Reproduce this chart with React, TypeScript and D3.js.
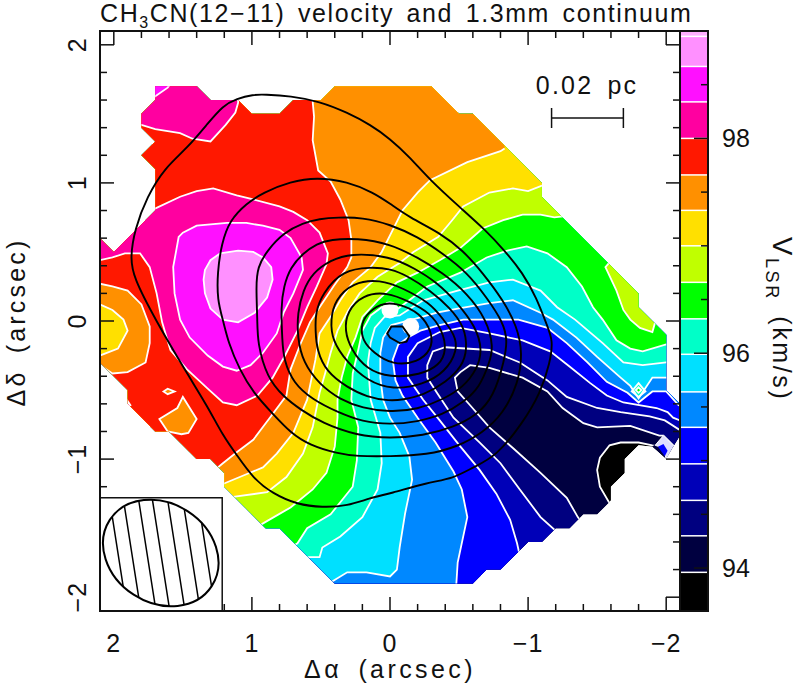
import React from "react";
import * as d3 from "d3";

type Pt = number[];

const width = 797;
const height = 693;
const font = "'Liberation Sans', sans-serif";

// colour bar: band edges (km/s) and the colour of each band, low to high
const barRange = [93.6, 99];
const levels = [93.96, 94.3, 94.63, 94.97, 95.31, 95.64, 95.99, 96.32, 96.66, 97.0, 97.33, 97.66, 98.0, 98.34, 98.67, 98.95];
const bandColors = [
  "#000000", "#000040", "#000080", "#0000b8", "#0000ff", "#0088ff", "#00e0ff", "#00ffc8", "#00ff00",
  "#c0ff00", "#ffe000", "#ff9000", "#ff1800", "#ff00a0", "#ff10ff", "#ff90ff", "#ffb0ff",
];
const barTicks = [94, 94.5, 95, 95.5, 96, 96.5, 97, 97.5, 98, 98.5];
const barLabels = [94, 96, 98];
const offsetLabels = [2, 1, 0, -1, -2];

// outline of the mapped area (arcsec)
const maskOutline: Pt[] = [
  [2.1, 0.6], [2.0, 0.5], [1.7, 0.8], [1.7, 1.1], [1.8, 1.2], [1.7, 1.3], [1.8, 1.4], [1.8, 1.5], [1.7, 1.6], [1.7, 1.7],
  [1.4, 1.7], [1.3, 1.6], [1.1, 1.6], [1.0, 1.5], [0.8, 1.5], [0.7, 1.6], [0.5, 1.6], [0.4, 1.7], [-0.3, 1.7], [-0.5, 1.5],
  [-0.6, 1.5], [-1.1, 1.0], [-1.1, 0.9], [-1.6, 0.4], [-1.8, 0.2], [-1.8, 0.1], [-2.0, -0.1], [-2.0, -0.5], [-2.1, -0.6],
  [-2.1, -0.83], [-2.05, -0.91], [-2.0, -1.0], [-1.9, -0.91], [-1.8, -0.9], [-1.7, -1.0], [-1.7, -1.1], [-1.6, -1.2], [-1.6, -1.3],
  [-1.5, -1.4], [-1.4, -1.4], [-1.3, -1.5], [-1.2, -1.5], [-1.1, -1.6], [-1.0, -1.6], [-0.8, -1.8], [-0.7, -1.8], [-0.6, -1.9],
  [0.4, -1.9], [0.8, -1.5], [0.9, -1.5], [1.2, -1.2], [1.2, -1.1], [1.3, -1.0], [1.4, -1.0], [1.6, -0.8], [1.7, -0.8],
  [1.9, -0.6], [1.9, -0.5], [2.1, -0.3],
];

// velocity contours, upper/right end first, lower end last
const v9396: Pt[] = [[-2.17, -0.93], [-1.9, -0.9], [-1.8, -0.88], [-1.67, -0.88], [-1.59, -0.9], [-1.52, -0.99], [-1.5, -1.08], [-1.52, -1.2], [-1.59, -1.32], [-1.62, -1.37]];
const v9430: Pt[] = [[-2.17, -0.91], [-2.06, -0.91], [-1.98, -0.83], [-1.95, -0.83], [-1.74, -0.76], [-1.5, -0.77], [-1.4, -0.74], [-1.25, -0.63], [-1.14, -0.51], [-0.96, -0.41], [-0.72, -0.34], [-0.58, -0.32], [-0.51, -0.37], [-0.47, -0.41], [-0.49, -0.51], [-0.58, -0.61], [-0.72, -0.77], [-0.89, -0.92], [-1.09, -1.1], [-1.28, -1.28], [-1.36, -1.42], [-1.39, -1.46]];
const v9463: Pt[] = [[-2.14, -0.81], [-2.1, -0.79], [-1.99, -0.72], [-1.88, -0.69], [-1.67, -0.66], [-1.5, -0.63], [-1.28, -0.55], [-1.14, -0.43], [-0.94, -0.3], [-0.72, -0.21], [-0.4, -0.19], [-0.31, -0.22], [-0.27, -0.32], [-0.27, -0.41], [-0.34, -0.52], [-0.46, -0.7], [-0.65, -0.88], [-0.8, -1.03], [-0.94, -1.22], [-1.09, -1.42], [-1.19, -1.51], [-1.22, -1.56]];
const v9497: Pt[] = [[-2.14, -0.75], [-2.1, -0.72], [-2.05, -0.7], [-2.01, -0.66], [-1.93, -0.63], [-1.69, -0.59], [-1.57, -0.54], [-1.45, -0.45], [-1.3, -0.33], [-1.16, -0.22], [-0.96, -0.14], [-0.72, -0.09], [-0.51, -0.05], [-0.36, -0.08], [-0.2, -0.16], [-0.13, -0.26], [-0.13, -0.41], [-0.24, -0.57], [-0.36, -0.72], [-0.51, -0.91], [-0.65, -1.08], [-0.77, -1.25], [-0.87, -1.44], [-0.92, -1.61], [-0.94, -1.7]];
const v9531: Pt[] = [[-2.14, -0.62], [-2.09, -0.61], [-2.0, -0.51], [-1.9, -0.51], [-1.8, -0.59], [-1.72, -0.52], [-1.57, -0.44], [-1.43, -0.3], [-1.28, -0.16], [-1.14, -0.05], [-0.93, 0.01], [-0.72, 0.01], [-0.53, 0.01], [-0.36, -0.03], [-0.22, -0.07], [-0.13, -0.12], [-0.06, -0.17], [-0.02, -0.28], [-0.04, -0.43], [-0.09, -0.54], [-0.2, -0.7], [-0.33, -0.88], [-0.46, -1.09], [-0.52, -1.22], [-0.56, -1.42], [-0.49, -1.75], [-0.48, -1.91], [-0.48, -1.96]];
const v9564: Pt[] = [[-2.04, -0.41], [-2.0, -0.41], [-1.9, -0.41], [-1.8, -0.56], [-1.74, -0.47], [-1.67, -0.41], [-1.5, -0.26], [-1.35, -0.12], [-1.18, 0.01], [-1.09, 0.06], [-0.89, 0.15], [-0.72, 0.13], [-0.49, 0.09], [-0.34, 0.06], [-0.2, 0.02], [-0.01, -0.03], [0.05, -0.12], [0.07, -0.23], [0.07, -0.41], [0.05, -0.57], [0, -0.7], [-0.07, -0.81], [-0.14, -0.98], [-0.16, -1.15], [-0.11, -1.39], [-0.07, -1.64], [-0.05, -1.8], [0, -1.85], [0.17, -1.82], [0.31, -1.82], [0.41, -1.88], [0.46, -1.92]];
const v9599: Pt[] = [[-2.04, -0.3], [-2.0, -0.3], [-1.83, -0.32], [-1.69, -0.3], [-1.54, -0.16], [-1.34, 0.01], [-1.21, 0.1], [-1.09, 0.22], [-0.89, 0.3], [-0.72, 0.28], [-0.49, 0.22], [-0.24, 0.15], [-0.07, 0.04], [0.04, 0.03], [0.11, -0.05], [0.14, -0.16], [0.16, -0.3], [0.14, -0.57], [0.07, -0.81], [0.06, -1.03], [0.09, -1.22], [0.2, -1.42], [0.36, -1.56], [0.49, -1.64], [0.51, -1.71], [0.6, -1.71], [0.65, -1.71]];
const v9632: Pt[] = [[-2.04, -0.17], [-2.0, -0.17], [-1.83, -0.22], [-1.74, -0.2], [-1.64, -0.14], [-1.54, 0.01], [-1.47, 0.1], [-1.39, 0.25], [-1.28, 0.39], [-1.14, 0.49], [-0.99, 0.54], [-0.85, 0.51], [-0.7, 0.46], [-0.51, 0.35], [-0.27, 0.25], [-0.06, 0.09], [0.06, 0.1], [0.14, 0.04], [0.2, -0.07], [0.23, -0.21], [0.27, -0.38], [0.28, -0.57], [0.23, -0.77], [0.24, -1.01], [0.27, -1.2], [0.43, -1.4], [0.6, -1.5], [0.67, -1.61], [0.72, -1.64]];
const v9666: Pt[] = [[-1.27, 0.76], [-1.19, 0.75], [-1.09, 0.77], [-0.96, 0.77], [-0.82, 0.73], [-0.67, 0.67], [-0.58, 0.59], [-0.51, 0.53], [-0.36, 0.44], [-0.2, 0.35], [-0.05, 0.28], [0.09, 0.15], [0.2, 0.03], [0.25, -0.12], [0.31, -0.26], [0.35, -0.41], [0.38, -0.57], [0.38, -0.7], [0.4, -0.91], [0.46, -1.1], [0.56, -1.22], [0.72, -1.35], [0.91, -1.46], [0.96, -1.49]];
const v9700: Pt[] = [[-1.14, 0.98], [-1.1, 0.98], [-1.0, 0.94], [-0.89, 0.96], [-0.72, 0.93], [-0.53, 0.83], [-0.45, 0.73], [-0.35, 0.61], [-0.17, 0.5], [-0.07, 0.42], [0.09, 0.32], [0.22, 0.2], [0.3, 0.08], [0.38, -0.07], [0.43, -0.23], [0.47, -0.38], [0.51, -0.52], [0.56, -0.77], [0.63, -0.96], [0.75, -1.13], [0.89, -1.24], [1.11, -1.27], [1.17, -1.28]];
const v9733: Pt[] = [[-0.83, 1.25], [-0.8, 1.23], [-0.56, 1.15], [-0.29, 1.02], [-0.2, 0.93], [-0.09, 0.8], [-0.02, 0.66], [0.06, 0.5], [0.14, 0.39], [0.27, 0.28], [0.36, 0.15], [0.43, 0.03], [0.51, -0.09], [0.54, -0.28], [0.6, -0.57], [0.7, -0.81], [0.82, -0.96], [0.92, -1.06], [1.04, -1.11], [1.21, -1.18], [1.27, -1.21]];
const v9766: Pt[] = [[0.56, 1.64], [0.56, 1.59], [0.55, 1.48], [0.56, 1.31], [0.52, 1.09], [0.43, 1.01], [0.36, 0.88], [0.3, 0.73], [0.28, 0.59], [0.28, 0.46], [0.31, 0.39], [0.41, 0.25], [0.51, 0.1], [0.58, -0.01], [0.65, -0.17], [0.72, -0.35], [0.75, -0.54], [0.87, -0.7], [0.99, -0.86], [1.11, -0.95], [1.21, -1.03], [1.27, -1.08]];

// closed velocity patches
const v9800Main: Pt[] = [[2.14, 0.43], [2.1, 0.44], [2.01, 0.46], [1.92, 0.49], [1.81, 0.49], [1.74, 0.39], [1.69, 0.2], [1.65, -0.01], [1.59, -0.21], [1.47, -0.35], [1.32, -0.49], [1.21, -0.59], [1.11, -0.61], [0.96, -0.54], [0.85, -0.41], [0.76, -0.25], [0.67, -0.07], [0.6, 0.1], [0.53, 0.25], [0.46, 0.41], [0.45, 0.49], [0.51, 0.64], [0.6, 0.73], [0.7, 0.79], [0.8, 0.83], [0.99, 0.88], [1.11, 0.91], [1.28, 0.96], [1.4, 0.94], [1.52, 0.9], [1.71, 0.81], [1.75, 0.79], [2.14, 0.64]];
const v9800Top: Pt[] = [[1.9, 1.42], [1.8, 1.42], [1.7, 1.39], [1.52, 1.36], [1.43, 1.32], [1.3, 1.3], [1.19, 1.42], [1.12, 1.51], [1.1, 1.58], [1.1, 1.8], [1.9, 1.8]];
const v9834Main: Pt[] = [[1.53, 0.61], [1.5, 0.64], [1.4, 0.69], [1.18, 0.71], [1.04, 0.71], [0.92, 0.69], [0.8, 0.66], [0.72, 0.6], [0.64, 0.46], [0.63, 0.37], [0.7, 0.2], [0.77, 0.06], [0.82, -0.09], [0.92, -0.23], [1.01, -0.32], [1.11, -0.36], [1.21, -0.33], [1.32, -0.25], [1.45, -0.12], [1.52, 0.01], [1.56, 0.2], [1.57, 0.39]];
const v9834Top: Pt[] = [[1.71, 1.62], [1.61, 1.69], [1.58, 1.73], [1.8, 1.73], [1.8, 1.62]];
const v9867Main: Pt[] = [[1.34, 0.37], [1.3, 0.44], [1.23, 0.49], [1.1, 0.51], [0.99, 0.5], [0.92, 0.46], [0.86, 0.39], [0.85, 0.3], [0.89, 0.17], [0.98, 0.06], [1.1, -0.01], [1.21, 0.01], [1.3, 0.09], [1.34, 0.2], [1.35, 0.3]];
const troughOrange: Pt[] = [[2.17, 0.27], [2.1, 0.27], [2.01, 0.25], [1.9, 0.22], [1.8, 0.12], [1.74, -0.04], [1.74, -0.16], [1.77, -0.3], [1.9, -0.37], [2.01, -0.38], [2.1, -0.32], [2.17, -0.32]];
const troughYellow: Pt[] = [[2.17, 0.12], [2.1, 0.12], [2.01, 0.08], [1.93, 0.01], [1.9, -0.07], [1.97, -0.2], [2.1, -0.25], [2.17, -0.25]];
const islandOrange: Pt[] = [[1.67, -0.71], [1.54, -0.63], [1.5, -0.55], [1.4, -0.71], [1.46, -0.81], [1.51, -0.82], [1.61, -0.8]];
const islandSmall: Pt[] = [[1.64, -0.51], [1.61, -0.49], [1.56, -0.51], [1.61, -0.53]];
const islandEdge: Pt[] = [[1.9, -0.58], [1.88, -0.61], [1.9, -0.62]];
const limeRight: Pt[] = [[-1.56, 0.39], [-1.64, 0.22], [-1.69, 0.08], [-1.74, 0.01], [-1.81, -0.05], [-1.9, -0.08], [-1.92, -0.01], [-1.97, 0.15], [-1.62, 0.46]];
const diamondAqua: Pt[] = [[-1.8, -0.45], [-1.85, -0.51], [-1.8, -0.55], [-1.75, -0.51]];
const diamondGreen: Pt[] = [[-1.8, -0.48], [-1.82, -0.5], [-1.8, -0.52], [-1.78, -0.5]];
const cornerBase: Pt[] = [[-1.98, -0.83], [-2.06, -0.91], [-2.0, -1.0], [-1.9, -0.91]];
const cornerPale: Pt[] = [[-1.92, -0.9], [-1.98, -0.83], [-2.06, -0.91], [-2.0, -1.0], [-1.98, -0.92]];
const cornerBlue: Pt[] = [[-1.94, -0.91], [-1.98, -0.89], [-2.01, -0.94], [-1.99, -0.98]];

// blanked pixels near the peak
const holes: Pt[] = [[0, 0.08], [-0.15, -0.04]];

// 1.3 mm continuum contours, outer to inner
const cont1: Pt[] = [[0.91, 1.64], [0.72, 1.63], [0.51, 1.59], [0.31, 1.51], [0.14, 1.42], [0, 1.32], [-0.14, 1.19], [-0.29, 1.02], [-0.51, 0.82], [-0.69, 0.66], [-0.83, 0.51], [-0.96, 0.35], [-1.06, 0.17], [-1.14, -0.04], [-1.18, -0.14], [-1.16, -0.3], [-1.09, -0.52], [-0.96, -0.74], [-0.77, -0.98], [-0.6, -1.06], [-0.46, -1.14], [-0.27, -1.17], [0, -1.25], [0.14, -1.28], [0.31, -1.34], [0.49, -1.35], [0.67, -1.33], [0.85, -1.25], [0.99, -1.14], [1.11, -0.97], [1.21, -0.83], [1.32, -0.62], [1.47, -0.38], [1.7, 0.01], [1.86, 0.32], [1.88, 0.46], [1.85, 0.66], [1.76, 0.9], [1.63, 1.11], [1.47, 1.25], [1.32, 1.43], [1.21, 1.56], [1.11, 1.61], [0.99, 1.64]];
const cont2: Pt[] = [[0.53, 1.04], [0.31, 1.01], [0.12, 0.93], [0, 0.85], [-0.14, 0.75], [-0.36, 0.64], [-0.53, 0.51], [-0.67, 0.35], [-0.82, 0.15], [-0.92, -0.04], [-0.96, -0.23], [-0.93, -0.45], [-0.82, -0.67], [-0.67, -0.81], [-0.49, -0.91], [-0.27, -0.97], [0, -0.98], [0.24, -0.98], [0.38, -0.96], [0.58, -0.9], [0.72, -0.81], [0.85, -0.67], [0.99, -0.52], [1.09, -0.35], [1.17, -0.16], [1.21, 0.01], [1.25, 0.15], [1.25, 0.35], [1.22, 0.56], [1.16, 0.73], [1.04, 0.85], [0.92, 0.93], [0.72, 1.01]];
const cont3: Pt[] = [[0.51, 0.74], [0.38, 0.75], [0.2, 0.75], [0, 0.7], [-0.2, 0.61], [-0.38, 0.49], [-0.56, 0.35], [-0.7, 0.17], [-0.82, -0.01], [-0.85, -0.14], [-0.83, -0.28], [-0.75, -0.55], [-0.63, -0.68], [-0.46, -0.77], [-0.24, -0.83], [0, -0.85], [0.24, -0.83], [0.49, -0.74], [0.65, -0.64], [0.77, -0.55], [0.89, -0.41], [0.96, -0.16], [0.96, 0.01], [0.97, 0.25], [0.96, 0.39], [0.89, 0.51], [0.77, 0.64], [0.63, 0.71]];
const cont4: Pt[] = [[0.53, 0.56], [0.43, 0.59], [0.24, 0.6], [0, 0.56], [-0.2, 0.46], [-0.38, 0.35], [-0.56, 0.2], [-0.7, 0.01], [-0.75, -0.19], [-0.72, -0.3], [-0.65, -0.48], [-0.53, -0.59], [-0.38, -0.68], [-0.2, -0.73], [0, -0.75], [0.2, -0.73], [0.38, -0.66], [0.56, -0.57], [0.7, -0.45], [0.77, -0.28], [0.78, -0.14], [0.79, 0.1], [0.77, 0.25], [0.72, 0.39], [0.63, 0.49]];
const cont5: Pt[] = [[0.43, 0.44], [0.29, 0.49], [0, 0.47], [-0.18, 0.38], [-0.34, 0.28], [-0.49, 0.13], [-0.62, -0.04], [-0.67, -0.21], [-0.63, -0.35], [-0.53, -0.48], [-0.38, -0.57], [-0.2, -0.64], [0, -0.66], [0.2, -0.63], [0.36, -0.57], [0.51, -0.46], [0.63, -0.3], [0.67, -0.12], [0.67, 0.06], [0.63, 0.22], [0.56, 0.35]];
const cont6: Pt[] = [[0.34, 0.37], [0.14, 0.39], [0, 0.38], [-0.14, 0.32], [-0.29, 0.22], [-0.43, 0.1], [-0.54, -0.04], [-0.56, -0.21], [-0.52, -0.33], [-0.41, -0.44], [-0.24, -0.54], [-0.09, -0.57], [0, -0.58], [0.17, -0.55], [0.31, -0.48], [0.46, -0.37], [0.53, -0.21], [0.54, -0.07], [0.54, 0.06], [0.49, 0.2]];
const cont7: Pt[] = [[0.27, 0.28], [0.07, 0.3], [-0.09, 0.24], [-0.29, 0.13], [-0.38, 0.02], [-0.47, -0.1], [-0.49, -0.21], [-0.4, -0.37], [-0.24, -0.46], [-0.02, -0.5], [0.17, -0.43], [0.31, -0.3], [0.42, -0.14], [0.43, 0.01], [0.4, 0.15]];
const cont8: Pt[] = [[0.2, 0.19], [0.02, 0.21], [-0.14, 0.14], [-0.29, 0.06], [-0.38, -0.07], [-0.41, -0.21], [-0.36, -0.32], [-0.22, -0.39], [0, -0.41], [0.17, -0.35], [0.28, -0.21], [0.33, -0.07], [0.31, 0.07]];
const cont9: Pt[] = [[0.18, 0.04], [0.07, 0.13], [-0.05, 0.13], [-0.22, 0.06], [-0.31, -0.09], [-0.3, -0.21], [-0.2, -0.3], [-0.02, -0.32], [0.12, -0.23], [0.2, -0.14], [0.21, -0.04]];
const contPeak: Pt[] = [[-0.01, -0.04], [-0.09, -0.04], [-0.14, -0.11], [-0.12, -0.15], [-0.07, -0.16], [0, -0.12], [0.02, -0.09]];

// beam and scale bar (arcsec)
const beamCentre = [1.66, -1.68];
const beamAxes = [0.44, 0.36];
const beamTilt = 33;
const beamBox = [2.1, 1.215, -1.28];
const hatchAt = [1.97, 1.87, 1.76, 1.66, 1.55, 1.44, 1.33];
const scaleBar = [-1.17, -1.69, 1.47];

const x = d3.scaleLinear().domain([2.1, -2.1]).range([100, 680]);
const y = d3.scaleLinear().domain([-2.1, 2.1]).range([611, 31]);
const vy = d3.scaleLinear().domain(barRange).range([611, 31]);
const px = x(0) - x(0.01);

const poly = d3.line<Pt>().x((d) => x(d[0])).y((d) => y(d[1]));
const smooth = d3.line<Pt>().x((d) => x(d[0])).y((d) => y(d[1])).curve(d3.curveBasisClosed);
const closed = (pts: Pt[]) => poly(pts) + "Z";

// area above a contour: run it off the map on the high-velocity side
const above = (line: Pt[]) =>
  closed([...line, [line[line.length - 1][0], -2.6], [2.6, -2.6], [2.6, 2.6], [line[0][0], 2.6]]);

const openContours = [v9396, v9430, v9463, v9497, v9531, v9564, v9599, v9632, v9666, v9700, v9733, v9766];
const patches: [Pt[], number][] = [
  [v9800Main, 13], [v9800Top, 13], [v9834Main, 14], [v9834Top, 14], [v9867Main, 15],
  [troughOrange, 11], [troughYellow, 10], [islandOrange, 11], [islandSmall, 11], [islandEdge, 13],
  [limeRight, 9], [diamondAqua, 7], [diamondGreen, 8],
];
const minorX = d3.range(-20, 21, 2).map((d) => d / 10);
const continuum = [cont1, cont2, cont3, cont4, cont5, cont6, cont7, cont8, cont9];

const App = () => {
  const ink = "#111";
  const label = { fontFamily: font, fontSize: 25, fill: "#111" };
  const boxX = x(beamBox[0]);
  const boxRight = x(beamBox[1]);
  const boxTop = y(beamBox[2]);
  return (
    <svg width={width} height={height} style={{ position: "absolute", left: 0, top: 0, background: "#fff" }}>
      <defs>
        <clipPath id="mask">
          <path d={closed(maskOutline)} />
        </clipPath>
        <clipPath id="beam">
          <ellipse
            cx={x(beamCentre[0])}
            cy={y(beamCentre[1])}
            rx={beamAxes[0] * px * 100}
            ry={beamAxes[1] * px * 100}
            transform={`rotate(${beamTilt} ${x(beamCentre[0])} ${y(beamCentre[1])})`}
          />
        </clipPath>
      </defs>

      <g clipPath="url(#mask)">
        <path d={closed(maskOutline)} fill={bandColors[0]} />
        {openContours.map((c, i) => (
          <path key={i} d={above(c)} fill={bandColors[i + 1]} />
        ))}
        {patches.map(([p, b], i) => (
          <path key={i} d={closed(p)} fill={bandColors[b]} />
        ))}
        {openContours.map((c, i) => (
          <path key={i} d={poly(c) as string} fill="none" stroke="#fff" strokeWidth={1.8} />
        ))}
        {patches.map(([p], i) => (
          <path key={i} d={closed(p)} fill="none" stroke="#fff" strokeWidth={1.8} />
        ))}
        <path d={closed(cornerBase)} fill={bandColors[1]} />
        <path d={closed(cornerPale)} fill="#dcdcff" stroke="#fff" />
        <path d={closed(cornerBlue)} fill={bandColors[4]} />
        {holes.map((h, i) => (
          <circle key={i} cx={x(h[0])} cy={y(h[1])} r={8.5} fill="#fff" />
        ))}
      </g>

      {continuum.map((c, i) => (
        <path key={i} d={smooth(c) as string} fill="none" stroke="#000" strokeWidth={1.9} />
      ))}
      <path d={closed(contPeak)} fill="none" stroke="#000" strokeWidth={1.9} />

      {/* frame ticks */}
      {minorX.map((d) => {
        const len = Number.isInteger(d) ? 14 : 7;
        return (
          <g key={d} stroke={ink} strokeWidth={1.5}>
            <line x1={x(d)} x2={x(d)} y1={611} y2={611 - len} />
            <line x1={x(d)} x2={x(d)} y1={31} y2={31 + len} />
            <line x1={100} x2={100 + len} y1={y(d)} y2={y(d)} />
            <line x1={680} x2={680 - len} y1={y(d)} y2={y(d)} />
          </g>
        );
      })}

      {/* beam inset */}
      <rect x={boxX} y={boxTop} width={boxRight - boxX} height={611 - boxTop} fill="#fff" stroke={ink} strokeWidth={1.5} />
      <g clipPath="url(#beam)">
        {hatchAt.map((h) => {
          const cx = x(h);
          const cy = y(beamCentre[1]);
          return <line key={h} x1={cx - 10} y1={cy - 64} x2={cx + 10} y2={cy + 64} stroke="#000" strokeWidth={1.5} />;
        })}
      </g>
      <ellipse
        cx={x(beamCentre[0])}
        cy={y(beamCentre[1])}
        rx={beamAxes[0] * px * 100}
        ry={beamAxes[1] * px * 100}
        transform={`rotate(${beamTilt} ${x(beamCentre[0])} ${y(beamCentre[1])})`}
        fill="none"
        stroke="#000"
        strokeWidth={2}
      />
      <rect x={100} y={31} width={580} height={580} fill="none" stroke={ink} strokeWidth={2} />

      {/* scale bar */}
      <g stroke={ink} strokeWidth={1.5}>
        <line x1={x(scaleBar[0])} x2={x(scaleBar[1])} y1={y(scaleBar[2])} y2={y(scaleBar[2])} />
        <line x1={x(scaleBar[0])} x2={x(scaleBar[0])} y1={y(scaleBar[2]) - 10} y2={y(scaleBar[2]) + 10} />
        <line x1={x(scaleBar[1])} x2={x(scaleBar[1])} y1={y(scaleBar[2]) - 10} y2={y(scaleBar[2]) + 10} />
      </g>
      <text x={587} y={94} textAnchor="middle" {...label} letterSpacing={2.2} wordSpacing={5}>
        0.02 pc
      </text>

      {/* colour bar */}
      {bandColors.map((c, i) => {
        const lo = i === 0 ? barRange[0] : levels[i - 1];
        const hi = i === levels.length ? barRange[1] : levels[i];
        return <rect key={c} x={681} width={27} y={vy(hi)} height={vy(lo) - vy(hi)} fill={c} />;
      })}
      {levels.map((l) => (
        <line key={l} x1={681} x2={707} y1={vy(l)} y2={vy(l)} stroke="#fff" strokeWidth={1.5} />
      ))}
      {barTicks.map((t) => (
        <line key={t} x1={708} x2={barLabels.includes(t) ? 694 : 701} y1={vy(t)} y2={vy(t)} stroke={ink} strokeWidth={1.5} />
      ))}
      <rect x={680} y={31} width={28} height={580} fill="none" stroke={ink} strokeWidth={2} />
      {barLabels.map((t) => (
        <text key={t} x={722} y={vy(t) + 9} {...label}>
          {t}
        </text>
      ))}

      {/* labels */}
      <text x={100} y={22} {...label} letterSpacing={1.6} wordSpacing={4}>
        CH<tspan fontSize={16} dy={6}>3</tspan>
        <tspan dy={-6}>CN(12−11) velocity and 1.3mm continuum</tspan>
      </text>
      {offsetLabels.map((d) => (
        <text key={d} x={x(d)} y={652} textAnchor="middle" {...label} letterSpacing={1}>
          {d < 0 ? `−${-d}` : d}
        </text>
      ))}
      {offsetLabels.map((d) => (
        <text key={d} transform={`translate(86 ${y(d)}) rotate(-90)`} textAnchor="middle" {...label} letterSpacing={1}>
          {d < 0 ? `−${-d}` : d}
        </text>
      ))}
      <text x={390} y={678} textAnchor="middle" {...label} letterSpacing={3.4} wordSpacing={6}>
        Δα (arcsec)
      </text>
      <text transform="translate(25 322) rotate(-90)" textAnchor="middle" {...label} letterSpacing={3.2} wordSpacing={6}>
        Δδ (arcsec)
      </text>
      <text transform="translate(773 319) rotate(90)" textAnchor="middle" {...label} letterSpacing={2.6} wordSpacing={6}>
        <tspan fontSize={28}>V</tspan>
        <tspan fontSize={18} dy={7}>LSR</tspan>
        <tspan dy={-7}> (km/s)</tspan>
      </text>
    </svg>
  );
};

export default App;
